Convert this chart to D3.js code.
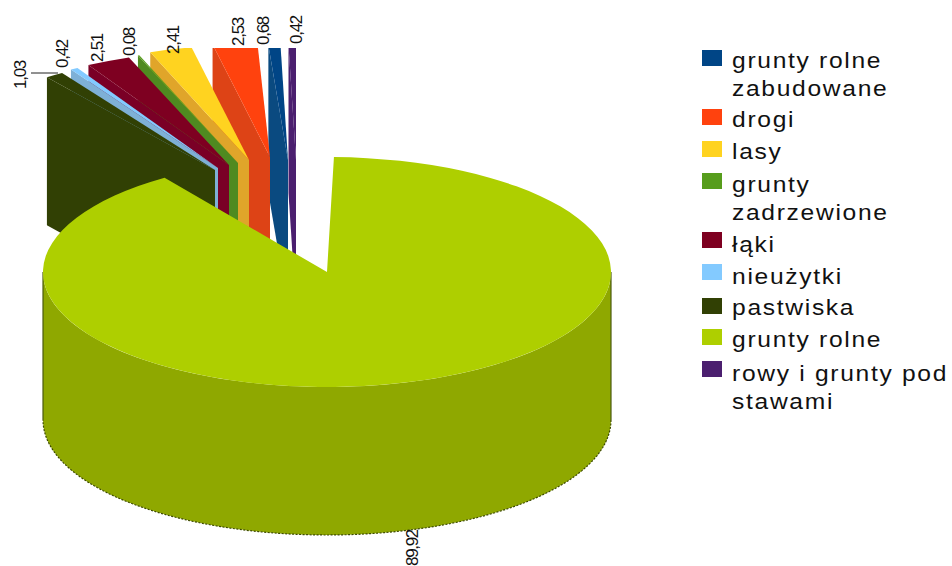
<html lang="en">
<head>
  <title>Struktura gruntów</title>
  <meta charset="utf-8">
  <style>
    body { margin: 0; background: #fff; }
    text { font-family: 'Liberation Sans', Arial, sans-serif; fill: #111; }
    .legend_text { font-size: 22px; letter-spacing: 1.5px; }
    .value_label { font-size: 17px; letter-spacing: -1.3px; text-anchor: middle; }
  </style>
</head>

<body>
  <svg id = 'canvas' width = '952' height = '566'></svg>
</body>

<script src="https://cdn.jsdelivr.net/npm/d3@7"></script>
<script>

// values, in legend order
var categories = ['grunty rolne zabudowane', 'drogi', 'lasy', 'grunty zadrzewione', 'łąki', 'nieużytki', 'pastwiska', 'grunty rolne', 'rowy i grunty pod stawami'];
var values = [0.68, 2.53, 2.41, 0.08, 2.51, 0.42, 1.03, 89.92, 0.42];
var value_labels = ['0,68', '2,53', '2,41', '0,08', '2,51', '0,42', '1,03', '89,92', '0,42'];
var legend_lines = [['grunty rolne', 'zabudowane'], ['drogi'], ['lasy'], ['grunty', 'zadrzewione'], ['łąki'], ['nieużytki'], ['pastwiska'], ['grunty rolne'], ['rowy i grunty pod', 'stawami']];

// clockwise from the top of the pie
var pie_order = ['grunty rolne', 'pastwiska', 'nieużytki', 'łąki', 'grunty zadrzewione', 'lasy', 'drogi', 'grunty rolne zabudowane', 'rowy i grunty pod stawami'];

var colors = ['#004586', '#ff420e', '#ffd320', '#579d1c', '#7e0021', '#83caff', '#314004', '#aecf00', '#4b1f6f'];
var face_colors = ['#0a4a80', '#dd4316', '#e0a52a', '#4f8a20', '#7a0026', '#7eb0d6', '#314004', '#8fa800', '#4b1f6f'];

// where the apex of each pulled out slice ends up, and a small turn in degrees
var apex_x = [288, 270, 249, 238, 229, 218, 215, 327, 296];
var apex_y = [160, 157, 160, 163, 165, 168, 170, 272, 160];
var turn = [-1.4, 0, 0, 0, 0, 0, -1.4, 0, -1.4];
var label_x = [263, 238, 173, 129, 97, 62, 20, 412, 296];
var label_y = [31, 32, 40, 42, 48, 54, 75, 548, 30];

var rx = 284, ry = 115, depth = 148;
var start_angle = 1.4*Math.PI/180;

var svg = d3.select('#canvas');

var pie = d3.pie().value(function(d){ return d.value })
  .sort(function(a, b){ return pie_order.indexOf(a.name) - pie_order.indexOf(b.name) })
  .startAngle(start_angle).endAngle(start_angle + 2*Math.PI);

// d3.pie keeps input order, so put them back in drawing order here
var slices = pie(categories.map(function(c, i){ return { name: c, value: values[i], index: i } }))
  .sort(function(a, b){ return a.startAngle - b.startAngle });
var arc = d3.arc().innerRadius(0).outerRadius(rx);
var line = d3.line();

function outer(a, cx, cy){ return [cx + rx*Math.sin(a), cy - ry*Math.cos(a)]; }

svg.append('clipPath').attr('id', 'top_clip').append('rect').attr('x', 0).attr('y', 48).attr('width', 952).attr('height', 518);
var pieces = svg.append('g').attr('clip-path', 'url(#top_clip)');

// small slices, right to left so each one covers the cut face of its right neighbour
slices.slice(1).reverse().forEach(function(s){
  var i = s.data.index, cx = apex_x[i], cy = apex_y[i];
  var t = turn[i]*Math.PI/180;
  var a0 = s.startAngle + t, a1 = s.endAngle + t;
  var p = outer(a0, cx, cy);
  pieces.append('path')
    .attr('d', line([p, [cx, cy], [cx, cy + depth], [p[0], p[1] + depth]]) + 'Z')
    .style('fill', face_colors[i]);
  pieces.append('path')
    .attr('d', arc({ startAngle: a0, endAngle: a1 }))
    .attr('transform', 'translate(' +cx+ ',' +cy+ ') scale(1,' +(ry/rx)+ ')')
    .style('fill', colors[i]);
});

// the big slice: front wall first, then the top
var main = slices[0], mi = main.data.index;
var cx = apex_x[mi], cy = apex_y[mi];
var front = d3.range(90, 271, 2).map(function(d){ return d*Math.PI/180 });
var wall_top = front.map(function(a){ return outer(a, cx, cy) });
var wall_bottom = front.map(function(a){ var p = outer(a, cx, cy); return [p[0], p[1] + depth] });

svg.append('path')
  .attr('d', line(wall_top.concat(wall_bottom.slice().reverse())) + 'Z')
  .style('fill', face_colors[mi]);
svg.append('path')
  .attr('d', line(wall_bottom))
  .style('fill', 'none').style('stroke', '#3d4a00').style('stroke-width', 1.2).style('stroke-dasharray', '2,1.5');
[wall_top[0], wall_top[wall_top.length - 1]].forEach(function(p){
  svg.append('path')
    .attr('d', line([p, [p[0], p[1] + depth]]))
    .style('fill', 'none').style('stroke', '#4a5a10').style('stroke-width', 1.2);
});
svg.append('path')
  .attr('d', arc(main))
  .attr('transform', 'translate(' +cx+ ',' +cy+ ') scale(1,' +(ry/rx)+ ')')
  .style('fill', colors[mi]);

// value labels
categories.forEach(function(c, i){
  svg.append('text').attr('class', 'value_label')
    .attr('transform', 'translate(' +(label_x[i] + 6)+ ',' +label_y[i]+ ') rotate(-90)')
    .text(value_labels[i]);
});
svg.append('line').attr('x1', 31).attr('y1', 73).attr('x2', 58).attr('y2', 73).style('stroke', '#222').style('stroke-width', 1);

// legend
var swatch_y = [50, 109, 141, 173, 232, 264, 298, 329, 361];
var legend_y = [68, 127, 159, 192, 252, 284, 315, 347, 381];
categories.forEach(function(c, i){
  svg.append('rect').attr('x', 702).attr('y', swatch_y[i]).attr('width', 20).attr('height', 16).style('fill', colors[i]);
  legend_lines[i].forEach(function(t, j){
    svg.append('text').attr('class', 'legend_text')
      .attr('transform', 'translate(732,' +(legend_y[i] + j*28)+ ') scale(1.12,1)')
      .text(t);
  });
});

</script>
</html>
